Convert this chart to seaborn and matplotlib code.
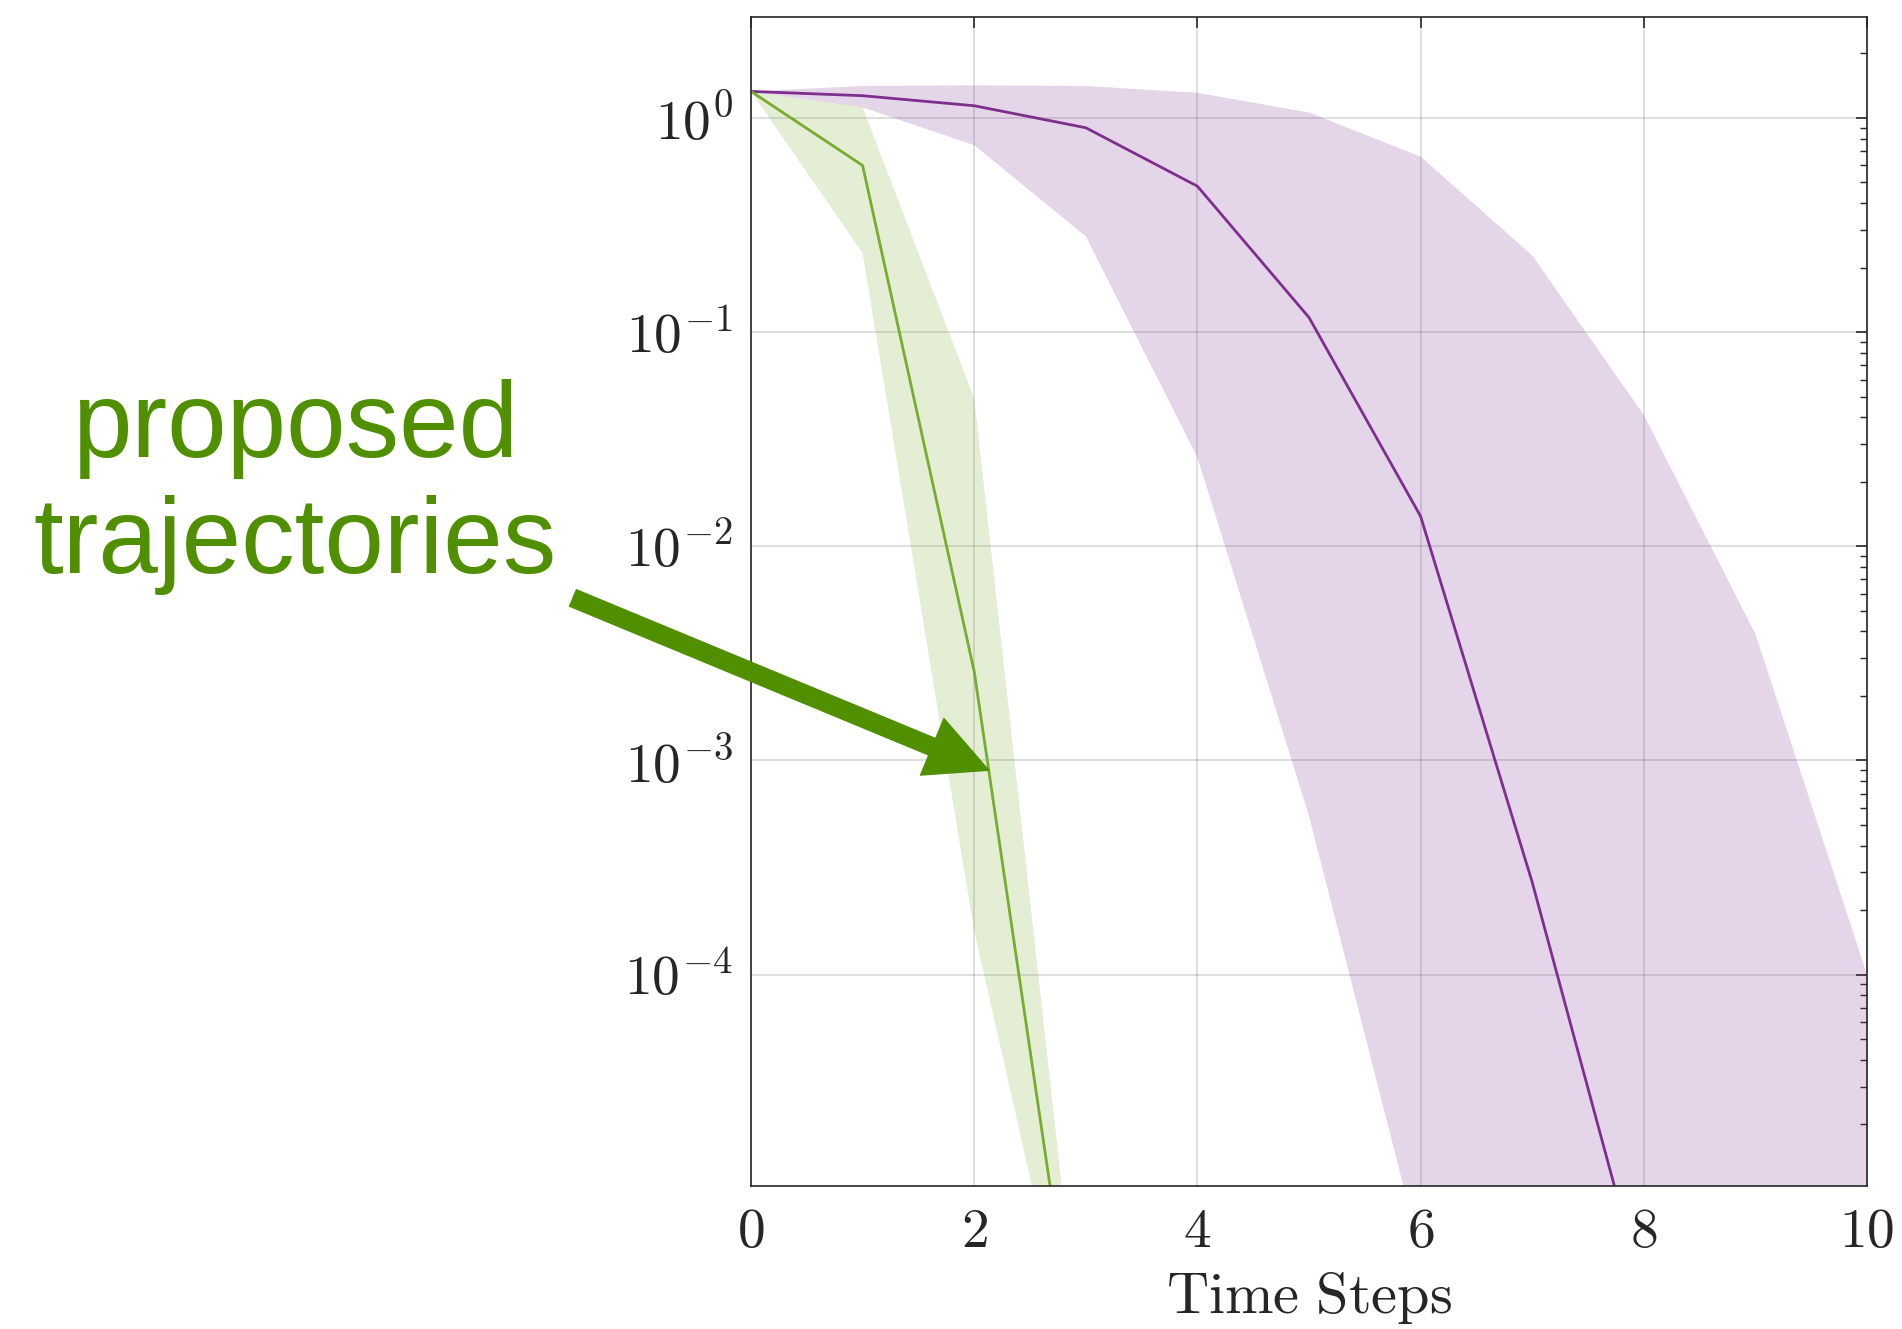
import matplotlib
import matplotlib.pyplot as plt
import seaborn as sns
import pandas as pd
from matplotlib.ticker import LogLocator, NullFormatter, FixedLocator, FixedFormatter

matplotlib.use("Agg")

# data (log scale values)
steps_proposed = [0, 1, 2, 3]
proposed_mean = [1.33, 0.60, 2.6e-3, 7.6e-7]
proposed_low = [1.33, 0.234, 1.6e-4, 8e-7]
proposed_high = [1.33, 1.12, 0.049, 1e-6]

steps_baseline = [0, 1, 2, 3, 4, 5, 6, 7, 8, 9, 10]
baseline_mean = [1.33, 1.27, 1.14, 0.90, 0.48, 0.117, 0.0138, 2.7e-4, 3.2e-6, 4e-8, 5e-10]
baseline_low = [1.33, 1.12, 0.746, 0.28, 0.026, 5.5e-4, 5e-6, 5e-8, 5e-10, 5e-12, 5e-14]
baseline_high = [1.33, 1.41, 1.42, 1.41, 1.31, 1.06, 0.66, 0.228, 0.041, 3.9e-3, 1.0e-4]

x_ticks = [0, 2, 4, 6, 8, 10]
y_ticks = [1e0, 1e-1, 1e-2, 1e-3, 1e-4]
y_labels = [r"$10^{0}$", r"$10^{-1}$", r"$10^{-2}$", r"$10^{-3}$", r"$10^{-4}$"]

green = "#77AC30"
purple = "#7E2F8E"
note_green = "#4F8F00"

sns.set_style("white")
plt.rcParams["mathtext.fontset"] = "cm"
plt.rcParams["font.family"] = ["DejaVu Sans"]

df_p = pd.DataFrame({"step": steps_proposed, "val": proposed_mean})
df_b = pd.DataFrame({"step": steps_baseline, "val": baseline_mean})

fig = plt.figure(figsize=(19.02, 13.29), dpi=100)
ax = fig.add_axes([751 / 1902, 1 - 1186 / 1329, (1867 - 751) / 1902, (1186 - 17) / 1329])

# bands
ax.fill_between(steps_baseline, baseline_low, baseline_high, color=purple, alpha=0.2, lw=0)
ax.fill_between(steps_proposed, proposed_low, proposed_high, color=green, alpha=0.2, lw=0)

# mean lines
sns.lineplot(data=df_b, x="step", y="val", color=purple, lw=2.0, ax=ax)
sns.lineplot(data=df_p, x="step", y="val", color=green, lw=2.0, ax=ax)

ax.set_yscale("log")
ax.set_xlim(0, 10)
ax.set_ylim(1.03e-5, 2.96)

ax.xaxis.set_major_locator(FixedLocator(x_ticks))
ax.xaxis.set_major_formatter(FixedFormatter([rf"${t}$" for t in x_ticks]))
ax.yaxis.set_major_locator(FixedLocator(y_ticks))
ax.yaxis.set_major_formatter(FixedFormatter(y_labels))
ax.yaxis.set_minor_locator(LogLocator(base=10, subs=range(2, 10), numticks=20))
ax.yaxis.set_minor_formatter(NullFormatter())

ax.tick_params(which="both", direction="in", top=True, right=True, color="#262626")
ax.tick_params(which="major", length=8, width=1.2, labelsize=40, pad=13)
ax.tick_params(which="minor", length=5, width=1.0)
ax.tick_params(axis="x", which="major", pad=14)

ax.grid(True, which="major", color="k", alpha=0.15, lw=1.2)
ax.set_axisbelow(True)
for s in ax.spines.values():
    s.set_color("#262626")
    s.set_linewidth(1.2)

ax.set_xlabel(r"$\mathrm{Time\ Steps}$", fontsize=42, labelpad=7)
ax.set_ylabel("")

# annotation
ax.annotate("", xy=(2.13, 9.0e-4), xycoords="data",
            xytext=(573, 1329 - 598), textcoords="figure pixels",
            arrowprops=dict(arrowstyle="simple,head_width=0.55,head_length=0.55,tail_width=0.16",
                            color=note_green, shrinkA=0, shrinkB=0, mutation_scale=80))
fig.text(295 / 1902, 1 - 487 / 1329, "proposed\ntrajectories", ha="center", va="center",
         fontsize=77, color=note_green, family=["Liberation Sans", "DejaVu Sans"],
         linespacing=1.2)

fig.savefig("out.png", dpi=100)
